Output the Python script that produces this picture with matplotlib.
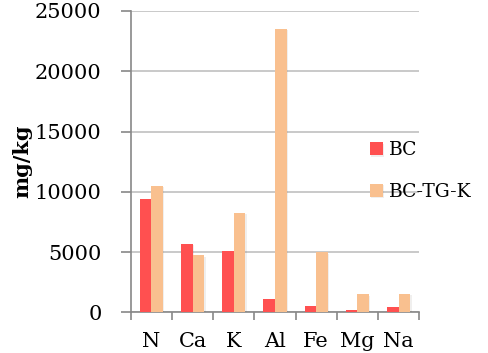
import numpy as np
import matplotlib.pyplot as plt
import matplotlib.patheffects as pe

# element concentrations (mg/kg)
elements = ["N", "Ca", "K", "Al", "Fe", "Mg", "Na"]
bc = [9400, 5700, 5100, 1080, 500, 200, 450]
bc_tg_k = [10500, 4750, 8250, 23500, 5000, 1500, 1550]

plt.rcParams['font.family'] = ['DejaVu Serif']

fig = plt.figure(figsize=(4.88, 3.53), dpi=100)
ax = fig.add_axes([0.268, 0.115, 0.591, 0.854])

x = np.arange(len(elements))
w = 0.283
shadow = [pe.SimplePatchShadow(offset=(1, -1), alpha=0.08), pe.Normal()]
b1 = ax.bar(x - w / 2, bc, w, color='#FF5050', label='BC', zorder=3)
b2 = ax.bar(x + w / 2, bc_tg_k, w, color='#F9C08F', label='BC-TG-K', zorder=3)
for r in list(b1) + list(b2):
    r.set_path_effects(shadow)

ax.set_xlim(-0.5, len(elements) - 0.5)
ax.set_ylim(0, 25000)
ax.set_yticks(np.arange(0, 25001, 5000))
ax.yaxis.grid(True, color='#C0C0C0', linewidth=1.2, zorder=0)
ax.set_axisbelow(True)

# category boundaries carry the tick marks, labels sit at the centres
ax.set_xticks(np.arange(-0.5, len(elements)), minor=False)
ax.set_xticklabels([])
ax.set_xticks(x, minor=True)
ax.set_xticklabels(elements, minor=True)
ax.tick_params(axis='x', which='minor', length=0, pad=14, labelsize=15)
ax.tick_params(axis='x', which='major', length=6, color='#888888', width=1.2)
ax.tick_params(axis='y', length=7, color='#888888', width=1.2, pad=14, labelsize=15)

for s in ['top', 'right']:
    ax.spines[s].set_visible(False)
for s in ['left', 'bottom']:
    ax.spines[s].set_color('#888888')
    ax.spines[s].set_linewidth(1.2)

ax.set_ylabel('mg/kg', fontsize=15, fontweight='bold', labelpad=2)

fig.legend(handles=[b1, b2], labels=['BC', 'BC-TG-K'], loc='center left',
           bbox_to_anchor=(0.758, 0.515), frameon=False, fontsize=13.5,
           handlelength=0.7, handleheight=0.7, handletextpad=0.3,
           labelspacing=1.25, borderpad=0, borderaxespad=0)

fig.savefig('out.png', dpi=100)
